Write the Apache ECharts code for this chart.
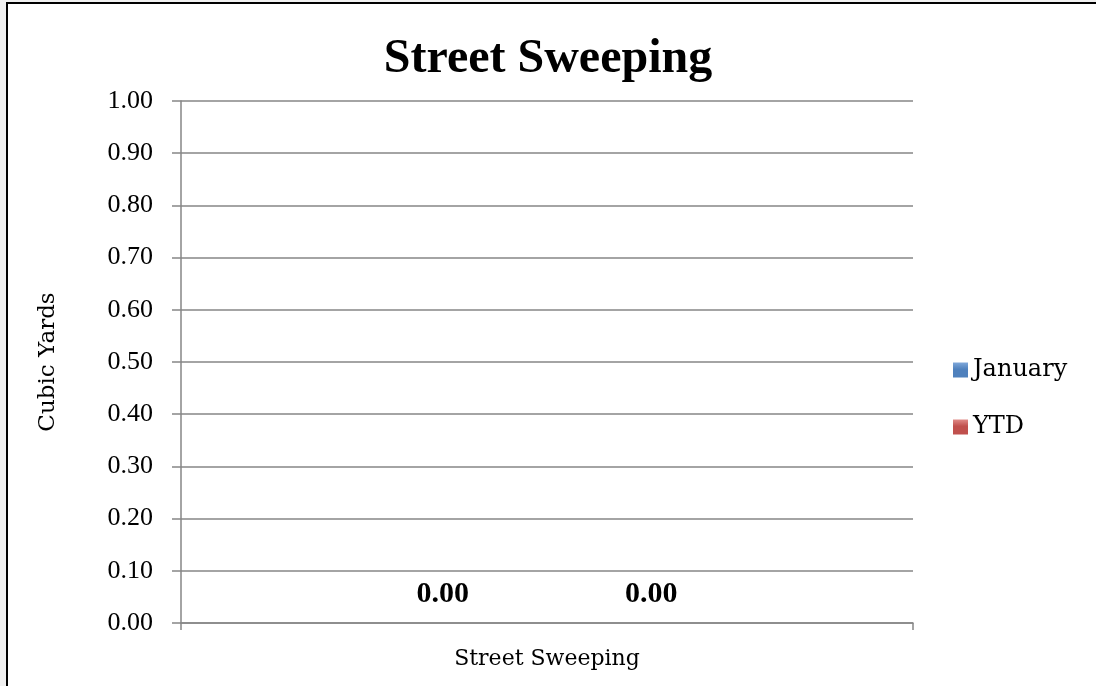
<!DOCTYPE html>
<html>
<head>
<meta charset="utf-8">
<script src="https://cdn.jsdelivr.net/npm/echarts@6/dist/echarts.min.js"></script>
<style>
  html, body { margin: 0; padding: 0; background: #f0f0f0; overflow: hidden; }
  #frame {
    position: absolute; left: 6px; top: 2px; width: 1200px; height: 800px;
    border: 2px solid #000; background: #fff;
  }
  #chart { position: absolute; left: 0; top: 0; width: 1096px; height: 686px; }
</style>
</head>
<body>
<div id="frame"></div>
<div id="chart"></div>
<script>
const categories = ['Street Sweeping'];
const seriesNames = ['January', 'YTD'];
const januaryValues = [0];
const ytdValues = [0];
const seriesColors = ['#4F81BD', '#C0504D'];
const seriesLight = ['#7FA8DA', '#E08A87'];

const numFont = '"Liberation Serif", serif';
const wordFont = '"DejaVu Serif", serif';
const axisGray = '#868686';

const chart = echarts.init(document.getElementById('chart'));

function bevel(i) {
  return new echarts.graphic.LinearGradient(0, 0, 0, 1, [
    { offset: 0, color: seriesLight[i] },
    { offset: 0.45, color: seriesColors[i] },
    { offset: 1, color: seriesColors[i] }
  ]);
}

function valueLabel() {
  return {
    show: true, position: 'top', distance: 14,
    fontFamily: numFont, fontSize: 30, fontWeight: 'bold', color: '#000',
    formatter: p => p.value.toFixed(2)
  };
}

const option = {
  animation: false,
  title: {
    text: 'Street Sweeping',
    left: 'center',
    top: 31,
    textStyle: { fontFamily: numFont, fontSize: 48, fontWeight: 'bold', color: '#000' }
  },
  legend: {
    orient: 'vertical',
    left: 948,
    top: 353,
    icon: 'rect',
    itemWidth: 15,
    itemHeight: 15,
    itemGap: 33,
    data: seriesNames,
    textStyle: { fontFamily: wordFont, fontSize: 24, color: '#000', lineHeight: 24 }
  },
  grid: { left: 181, right: 183, top: 101, bottom: 63 },
  xAxis: {
    type: 'category',
    data: categories,
    axisLine: { lineStyle: { color: axisGray, width: 1.5 } },
    axisTick: { show: true, length: 7, lineStyle: { color: axisGray, width: 1.5 } },
    axisLabel: { fontFamily: wordFont, fontSize: 22, color: '#000', margin: 25 }
  },
  yAxis: {
    type: 'value',
    min: 0,
    max: 1,
    interval: 0.1,
    name: 'Cubic Yards',
    nameLocation: 'middle',
    nameGap: 121,
    nameTextStyle: { fontFamily: wordFont, fontSize: 23, color: '#000' },
    axisLine: { show: true, lineStyle: { color: axisGray, width: 1.5 } },
    axisTick: { show: true, length: 9, lineStyle: { color: axisGray, width: 1.5 } },
    axisLabel: {
      fontFamily: numFont, fontSize: 26, color: '#000', margin: 28,
      formatter: v => v.toFixed(2)
    },
    splitLine: { lineStyle: { color: axisGray, width: 1.5 } }
  },
  series: [
    {
      name: seriesNames[0],
      type: 'bar',
      data: januaryValues,
      barGap: '0%',
      barCategoryGap: '43%',
      itemStyle: { color: bevel(0) },
      label: valueLabel()
    },
    {
      name: seriesNames[1],
      type: 'bar',
      data: ytdValues,
      barGap: '0%',
      barCategoryGap: '43%',
      itemStyle: { color: bevel(1) },
      label: valueLabel()
    }
  ]
};

chart.setOption(option);
</script>
</body>
</html>
